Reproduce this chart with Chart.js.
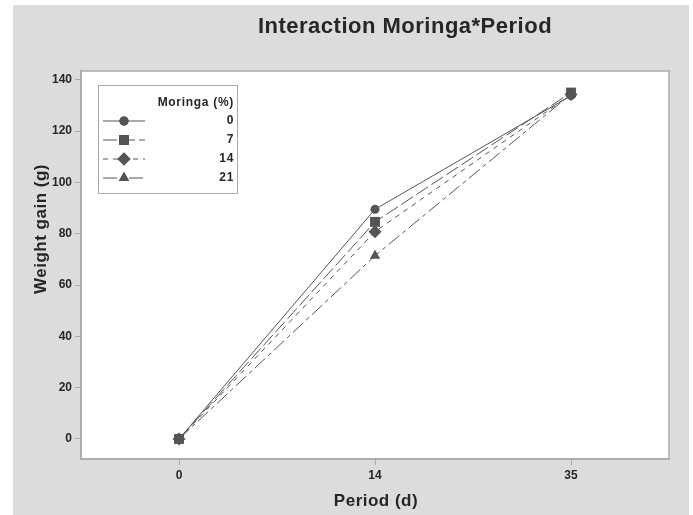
<!DOCTYPE html>
<html>
<head>
<meta charset="utf-8">
<script src="https://cdn.jsdelivr.net/npm/chart.js@4.4.1/dist/chart.umd.min.js"></script>
<style>
  html, body { margin: 0; padding: 0; background: #fff; }
  #wrap { position: absolute; left: 13px; top: 5px; width: 676px; height: 510px; background: #dcdcdd; }
</style>
</head>
<body>
<div id="wrap"><canvas id="myChart"></canvas></div>
<script>
const periods = ["0", "14", "35"];
const moringaLevels = ["0", "7", "14", "21"];
const gain0 = [0, 89.5, 133.8];
const gain7 = [0, 84.6, 135.0];
const gain14 = [0, 80.8, 134.2];
const gain21 = [0, 71.4, 134.4];
const yTicks = [0, 20, 40, 60, 80, 100, 120, 140];

const lineColor = "#555555";
const textColor = "#262626";
const axisColor = "#aaaaaa";
const FONT = "'Liberation Sans', Arial, sans-serif";

function series(label, data, style, radius, dash) {
  return {
    label: label,
    data: data,
    borderColor: lineColor,
    backgroundColor: lineColor,
    borderWidth: 1,
    borderDash: dash,
    pointStyle: style,
    pointRadius: radius,
    pointBorderWidth: 0,
    pointBackgroundColor: lineColor,
    tension: 0,
  };
}

// white plot area with a grey frame
const plotFrame = {
  id: "plotFrame",
  beforeDraw(chart) {
    const { ctx, chartArea: a } = chart;
    ctx.save();
    ctx.fillStyle = "#ffffff";
    ctx.fillRect(a.left, a.top, a.right - a.left, a.bottom - a.top);
    ctx.strokeStyle = axisColor;
    ctx.lineWidth = 1.5;
    ctx.strokeRect(a.left, a.top, a.right - a.left, a.bottom - a.top);
    ctx.restore();
  },
};

// chart title and axis titles, slightly letter-spaced like the original
const titles = {
  id: "titles",
  afterDraw(chart) {
    const { ctx, chartArea: a } = chart;
    ctx.save();
    ctx.fillStyle = textColor;
    ctx.textAlign = "center";
    ctx.letterSpacing = "0.5px";
    ctx.font = "bold 22px " + FONT;
    ctx.textBaseline = "alphabetic";
    ctx.fillText("Interaction Moringa*Period", 392, 28);
    ctx.font = "bold 17px " + FONT;
    ctx.textBaseline = "middle";
    ctx.fillText("Period (d)", (a.left + a.right) / 2 + 1, 496);
    ctx.translate(28, 224);
    ctx.rotate(-Math.PI / 2);
    ctx.fillText("Weight gain (g)", 0, 0);
    ctx.restore();
  },
};

// boxed legend, markers left, labels right aligned
const boxLegend = {
  id: "boxLegend",
  afterDraw(chart) {
    const ctx = chart.ctx;
    const x0 = 85, y0 = 80, w = 139, h = 108;
    ctx.save();
    ctx.fillStyle = "#ffffff";
    ctx.fillRect(x0, y0, w, h);
    ctx.strokeStyle = axisColor;
    ctx.lineWidth = 1;
    ctx.strokeRect(x0 + 0.5, y0 + 0.5, w, h);
    ctx.fillStyle = textColor;
    ctx.letterSpacing = "0.7px";
    ctx.font = "bold 12px " + FONT;
    ctx.textAlign = "right";
    ctx.textBaseline = "middle";
    ctx.fillText("Moringa (%)", x0 + 136, y0 + 18);
    chart.data.datasets.forEach((ds, i) => {
      const y = y0 + 36 + i * 19;
      ctx.strokeStyle = ds.borderColor;
      ctx.lineWidth = 1;
      ctx.setLineDash(ds.borderDash || []);
      ctx.beginPath();
      ctx.moveTo(x0 + 5, y);
      ctx.lineTo(x0 + 47, y);
      ctx.stroke();
      ctx.setLineDash([]);
      Chart.helpers.drawPoint(ctx, {
        pointStyle: ds.pointStyle,
        radius: ds.pointRadius,
        borderWidth: 0,
        rotation: 0,
      }, x0 + 26, y);
      ctx.fillStyle = ds.pointBackgroundColor;
      ctx.fill();
      ctx.fillStyle = textColor;
      ctx.fillText(ds.label, x0 + 136, y);
    });
    ctx.restore();
  },
};

new Chart(document.getElementById("myChart"), {
  type: "line",
  data: {
    labels: periods,
    datasets: [
      series(moringaLevels[0], gain0, "circle", 4.5, []),
      series(moringaLevels[1], gain7, "rect", 7, [14, 4]),
      series(moringaLevels[2], gain14, "rectRot", 6.5, [5, 5]),
      series(moringaLevels[3], gain21, "triangle", 6, [14, 4, 4, 4]),
    ],
  },
  options: {
    responsive: true,
    maintainAspectRatio: false,
    animation: false,
    layout: { padding: { top: 66, right: 20, bottom: 0, left: 0 } },
    plugins: {
      legend: { display: false },
      tooltip: { enabled: false },
    },
    scales: {
      x: {
        type: "category",
        offset: true,
        grid: { display: true, drawOnChartArea: false, offset: false, tickLength: 6, color: axisColor },
        border: { color: axisColor, width: 1.5 },
        ticks: { color: textColor, padding: 3, font: { family: FONT, size: 12, weight: "bold" } },
        afterFit(scale) { scale.height = 56; },
      },
      y: {
        min: -7.8,
        max: 143.4,
        grid: { display: true, drawOnChartArea: false, tickLength: 6, color: axisColor },
        border: { color: axisColor, width: 1.5 },
        ticks: { color: textColor, padding: 3, font: { family: FONT, size: 12, weight: "bold" } },
        afterBuildTicks(scale) { scale.ticks = yTicks.map((v) => ({ value: v })); },
        afterFit(scale) { scale.width = 68; },
      },
    },
  },
  plugins: [plotFrame, titles, boxLegend],
});
</script>
</body>
</html>
